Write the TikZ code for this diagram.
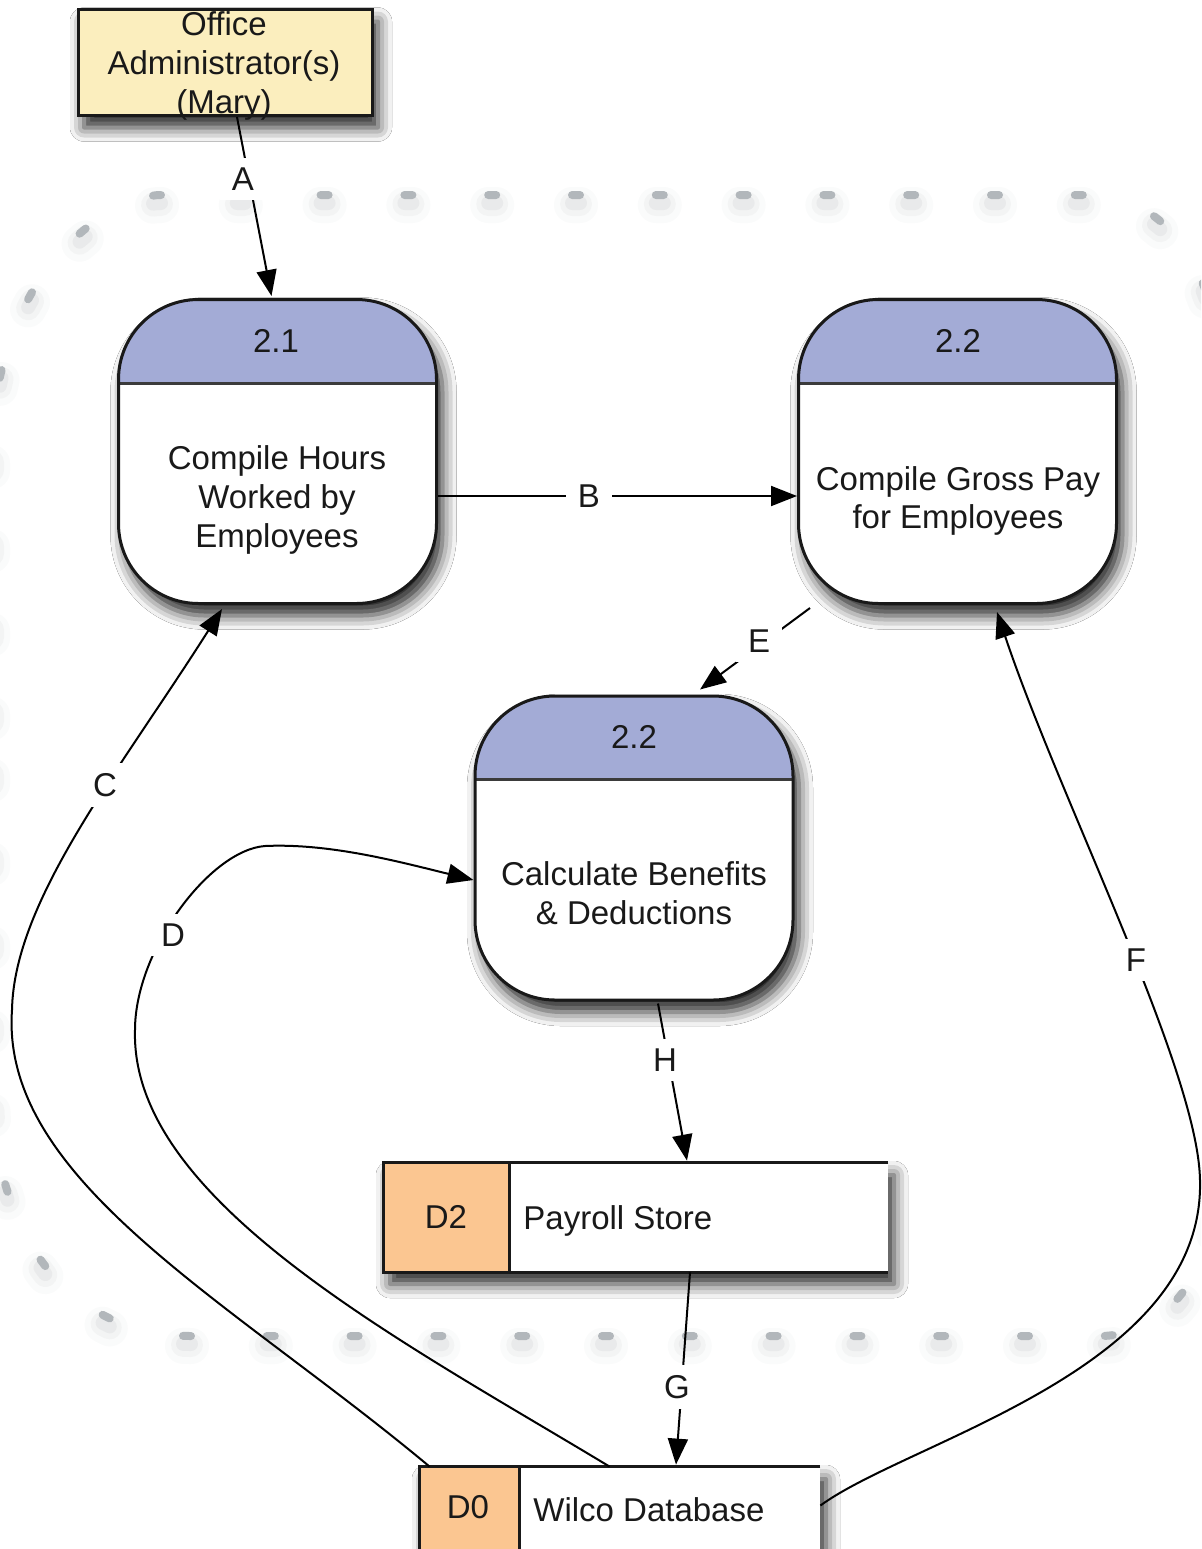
\documentclass[tikz,border=0pt]{standalone}
\usepackage{fontspec}
\setmainfont{Liberation Sans}
\usetikzlibrary{shadows.blur,arrows.meta}
\definecolor{lav}{RGB}{163,171,214}
\definecolor{yel}{RGB}{251,238,190}
\definecolor{org}{RGB}{251,198,145}
\definecolor{dashc}{RGB}{178,183,187}
\definecolor{ink}{RGB}{25,25,25}
\newcommand\bndpaths[1]{%
  \draw[bnd,#1] (161,195) .. controls (115,195) and (0,262) .. (-8,440) -- (-8,765);
  \draw[bnd,#1] (236.8,195) -- (1090,195) .. controls (1160,195) and (1225,260) .. (1225,420) -- (1225,765);
  \draw[bnd,#1] (191,1336) .. controls (80,1336) and (-8,1250) .. (-8,1080) -- (-8,765);
  \draw[bnd,#1] (266.8,1336) -- (1100,1336) .. controls (1160,1336) and (1225,1280) .. (1225,1130) -- (1225,765);
}
\begin{document}
\begin{tikzpicture}[x=0.5pt,y=-0.5pt,
  txt/.style={font=\fontsize{16.5pt}{19.3pt}\selectfont, text=ink, align=center, inner sep=0pt},
  lbl/.style={txt, fill=white, inner xsep=6pt, inner ysep=5pt},
  shad/.style={blur shadow={shadow xshift=3pt, shadow yshift=-6pt, shadow blur radius=7pt, shadow opacity=85}},
  proc/.style={draw=ink, line width=1.5pt, fill=white, rounded corners=40pt,
    minimum width=159pt, minimum height=152pt, inner sep=0pt, shad,
    path picture={\fill[lav, sharp corners] (path picture bounding box.north west) rectangle ([yshift=-41.75pt]path picture bounding box.north east);
      \draw[line width=1.5pt, ink!85, sharp corners] ([yshift=-41.75pt]path picture bounding box.north west) -- ([yshift=-41.75pt]path picture bounding box.north east);}},
  store/.style={fill=white, inner sep=0pt, shad},
  edge/.style={line width=1.5pt, draw=ink},
  arr/.style={draw=black, line width=1pt, -{Triangle[length=13pt,width=10pt]}},
  bnd/.style={line cap=round, dash pattern=on 4pt off 37.9pt}
]
\clip (0,0) rectangle (1201,1549);
\fill[white] (0,0) rectangle (1201,1549);

% system boundary with soft shadow
\foreach \lw/\op/\ys in {18pt/0.03/-5pt, 12pt/0.05/-4.5pt, 7pt/0.08/-4pt}{
  \bndpaths{draw=dashc!70!black, line width=\lw, opacity=\op, yshift=\ys}
}
\bndpaths{draw=dashc, line width=4pt}

% external entity
\node[draw=ink, line width=1.5pt, fill=yel, minimum width=147pt, minimum height=53pt, inner sep=0pt, shad] (off) at (225,62.5) {};
\node[txt] (offt) at (224,66) {Office\\Administrator(s)\\(Mary)};

% processes
\node[proc] (p21) at (277.5,451.5) {};
\node[txt] (p21n) at (276,341) {2.1};
\node[txt] (p21t) at (277,500) {Compile Hours\\Worked by\\Employees};

\node[proc] (p22) at (957.5,451.5) {};
\node[txt] (p22n) at (958,341) {2.2};
\node[txt] (p22t) at (958,501) {Compile Gross Pay\\for Employees};

\node[proc] (p3) at (634,848) {};
\node[txt] (p3n) at (634,737) {2.2};
\node[txt] (p3t) at (634,893) {Calculate Benefits\\\& Deductions};

% data stores
\node[store, minimum width=252pt, minimum height=54.5pt] (d2) at (636,1217.5) {};
\fill[org] (d2.north west) rectangle ([xshift=63pt]d2.south west);
\draw[edge] (d2.north east) -- (d2.north west) -- (d2.south west) -- (d2.south east);
\draw[edge] ([xshift=63pt]d2.north west) -- ([xshift=63pt]d2.south west);
\node[txt] (d2n) at (446,1217) {D2};
\node[txt, anchor=west] (d2t) at (523,1221) {Payroll Store};

\node[store, minimum width=200pt, minimum height=42.5pt] (d0) at (620,1509.5) {};
\fill[org] (d0.north west) rectangle ([xshift=50pt]d0.south west);
\draw[edge] (d0.north east) -- (d0.north west) -- (d0.south west) -- (d0.south east);
\draw[edge] ([xshift=50pt]d0.north west) -- ([xshift=50pt]d0.south west);
\node[txt] (d0n) at (468,1507) {D0};
\node[txt, anchor=west] (d0t) at (533,1510) {Wilco Database};

% connectors
\draw[arr] ([xshift=6pt]off.south) -- ([xshift=-3pt,yshift=1pt]p21.north);
\draw[arr] ([yshift=-22.25pt]p21.east) -- ([yshift=-22.25pt]p22.west);
\draw[arr] ([xshift=5pt]d0.north west) .. controls (230,1300) and (0,1180) .. (12,1010)
  .. controls (14,900) and (120,770) .. ([xshift=-27.75pt,yshift=-2pt]p21.south);
\draw[arr] ([xshift=95pt]d0.north west) .. controls (400,1340) and (130,1200) .. (135,1030)
  .. controls (135,950) and (210,850) .. (265,846)
  .. controls (330,843) and (400,862) .. ([yshift=-16pt]p3.west);
\draw[arr] ([xshift=-73.75pt,yshift=-1.5pt]p22.south) -- ([xshift=33pt,yshift=2.5pt]p3.north);
\draw[arr] ([yshift=2pt]d0.east) .. controls (910,1440) and (1205,1370) .. (1200,1180)
  .. controls (1198,1070) and (1060,800) .. ([xshift=19.75pt,yshift=-3.5pt]p22.south);
\draw[arr] ([xshift=27pt]d2.south) -- ([xshift=28pt,yshift=1pt]d0.north);
\draw[arr] ([xshift=12pt,yshift=-1pt]p3.south) -- ([xshift=25.5pt,yshift=1pt]d2.north);

% connector labels
\node[lbl] (la) at (243,179) {A};
\node[lbl] (lb) at (589,496) {B};
\node[lbl] (lc) at (105,785) {C};
\node[lbl] (ld) at (173,935) {D};
\node[lbl] (le) at (759,641) {E};
\node[lbl] (lf) at (1136,960) {F};
\node[lbl] (lg) at (677,1387) {G};
\node[lbl] (lh) at (665,1060) {H};
\end{tikzpicture}
\end{document}
